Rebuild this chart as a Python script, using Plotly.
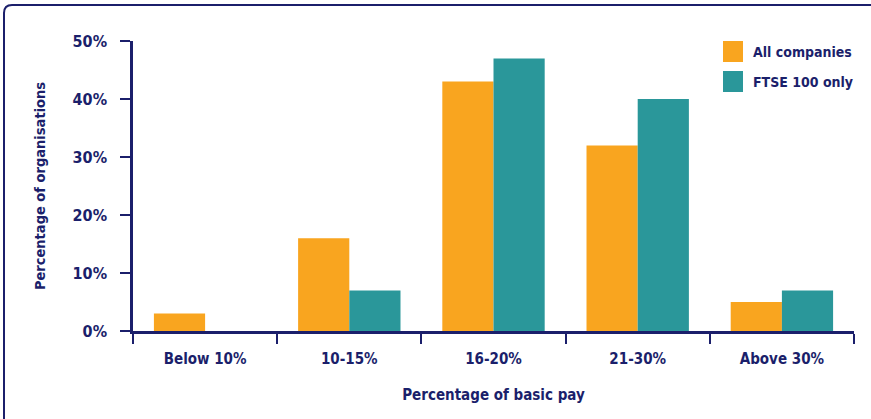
import plotly.graph_objects as go

# Share of organisations by bonus level (percentage of basic pay)
categories = ["Below 10%", "10-15%", "16-20%", "21-30%", "Above 30%"]
series_names = ["All companies", "FTSE 100 only"]
all_companies = [3, 16, 43, 32, 5]
ftse_100 = [0, 7, 47, 40, 7]
y_ticks = [0, 10, 20, 30, 40, 50]

NAVY = "#1b1f6b"
ORANGE = "#f9a51f"
TEAL = "#2a979a"
FONT = "DejaVu Sans Condensed, Liberation Sans Narrow, sans-serif"

W, H = 871, 419
L, R, T, B = 133, 17, 41, 88
pw, ph = W - L - R, H - T - B


def px(x):
    return (x - L) / pw


def py(y):
    return (H - B - y) / ph


def f(size):
    return dict(family=FONT, size=size, color=NAVY, weight="bold")


fig = go.Figure()
fig.add_trace(go.Bar(x=categories, y=all_companies, name=series_names[0],
                     marker=dict(color=ORANGE, line=dict(width=0))))
fig.add_trace(go.Bar(x=categories, y=ftse_100, name=series_names[1],
                     marker=dict(color=TEAL, line=dict(width=0))))

shapes = []
# frame: top and left edges with a rounded corner
r = 8
x0, y0 = px(4), py(5)
shapes.append(dict(
    type="path", xref="paper", yref="paper",
    path=(f"M {x0},{py(425)} L {x0},{py(5 + r)} "
          f"Q {x0},{y0} {px(4 + r)},{y0} L {px(880)},{y0}"),
    line=dict(color=NAVY, width=2),
))

# legend swatches and labels
annotations = []
for i, (name, col) in enumerate(zip(series_names, [ORANGE, TEAL])):
    top = 41 + i * 30
    shapes.append(dict(type="rect", xref="paper", yref="paper",
                       x0=px(723), x1=px(743), y0=py(top + 21), y1=py(top),
                       fillcolor=col, line=dict(width=0)))
    annotations.append(dict(xref="paper", yref="paper", x=px(751), y=py(top + 11),
                            text=name, showarrow=False, xanchor="left", yanchor="middle",
                            font=f(14)))

fig.update_layout(
    width=W, height=H,
    margin=dict(l=L, r=R, t=T, b=B),
    paper_bgcolor="white", plot_bgcolor="white",
    barmode="group", bargap=0.29, bargroupgap=0,
    showlegend=False,
    font=f(15),
    shapes=shapes, annotations=annotations,
    xaxis=dict(
        type="category", tickson="boundaries",
        showline=True, linecolor=NAVY, linewidth=2.5,
        ticks="outside", ticklen=10, tickwidth=2, tickcolor=NAVY,
        showgrid=False, zeroline=False,
        tickfont=f(15), ticklabelstandoff=12,
        title=dict(text="Percentage of basic pay", standoff=23, font=f(15)),
    ),
    yaxis=dict(
        range=[0, 50], tickvals=y_ticks, ticktext=[f"{v}%" for v in y_ticks],
        showline=True, linecolor=NAVY, linewidth=2.5,
        ticks="outside", ticklen=10, tickwidth=2, tickcolor=NAVY,
        showgrid=False, zeroline=False,
        tickfont=f(16), ticklabelstandoff=10,
        title=dict(text="Percentage of organisations", standoff=24, font=f(14.5)),
    ),
)

fig.write_html("out.html")
